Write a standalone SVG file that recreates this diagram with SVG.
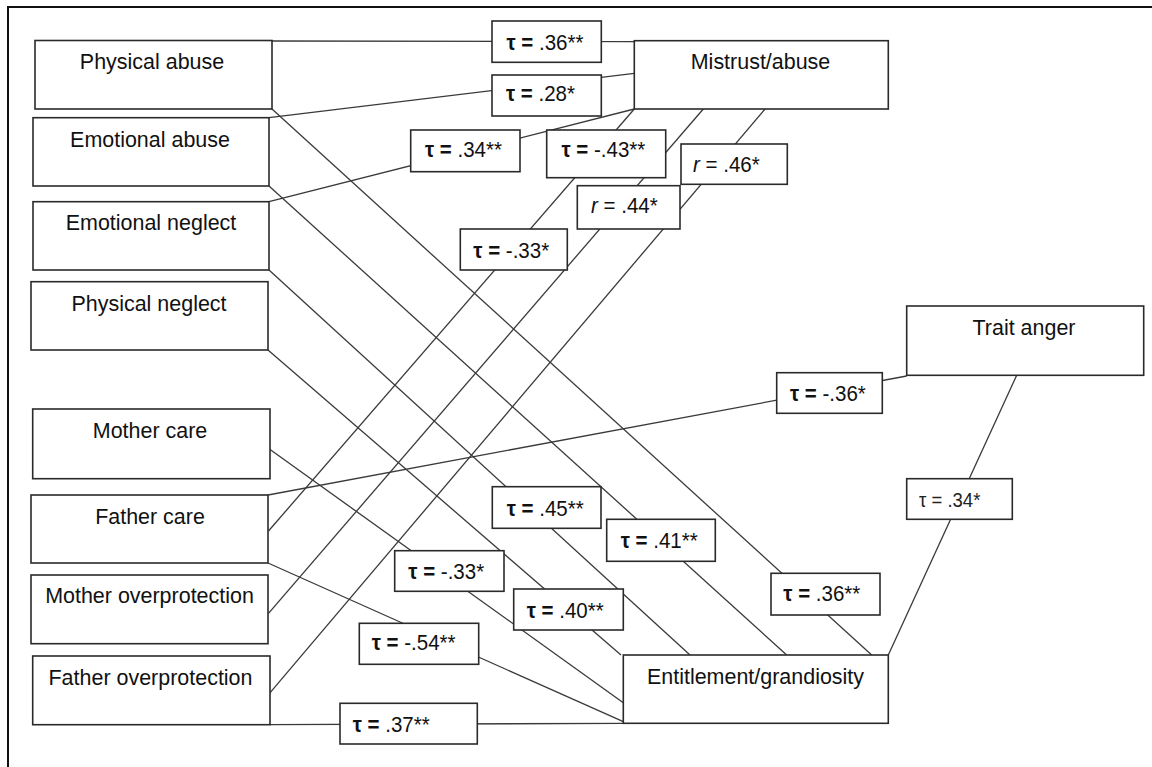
<svg xmlns="http://www.w3.org/2000/svg" width="1152" height="767" viewBox="0 0 1152 767">
  <style>
    .frame { fill: none; stroke: #111; stroke-width: 2; }
    .node rect { fill: #fff; stroke: #2a2a2a; stroke-width: 1.6; }
    .node text { font-family: "Liberation Sans", Arial, sans-serif; font-size: 22.6px; fill: #111; text-anchor: middle; }
    .coef rect { fill: #fff; stroke: #2a2a2a; stroke-width: 1.6; }
    .coef text { font-family: "Liberation Sans", Arial, sans-serif; font-size: 21.6px; fill: #111; }
    .coef .sym { font-weight: bold; }
    .coef .it { font-style: italic; }
    .coef text.light { font-size: 19.5px; fill: #222; }
    #connectors line { stroke: #3a3a3a; stroke-width: 1.3; fill: none; }
  </style>

  <rect width="1152" height="767" fill="#fff"/>
  <!-- outer frame: only top and left edges fall inside the canvas -->
  <path class="frame" d="M8,767 V7 H1152"/>

  <!-- connectors -->
  <g id="connectors">
    <line x1="272" y1="41" x2="634.3" y2="41.5"/>
    <line x1="269" y1="117.7" x2="634.3" y2="73.3"/>
    <line x1="269" y1="201.7" x2="634.3" y2="109"/>
    <line x1="634.3" y1="109" x2="268.5" y2="531"/>
    <line x1="703.3" y1="109" x2="268.5" y2="613.3"/>
    <line x1="765" y1="109" x2="269.5" y2="693.3"/>
    <line x1="272" y1="109" x2="871.7" y2="655"/>
    <line x1="269" y1="186" x2="786.7" y2="655"/>
    <line x1="269" y1="270" x2="690" y2="655"/>
    <line x1="268" y1="350" x2="621" y2="655"/>
    <line x1="268.3" y1="448.3" x2="623.3" y2="702.7"/>
    <line x1="268" y1="563" x2="623.3" y2="721.7"/>
    <line x1="270" y1="724.7" x2="623.3" y2="723.3"/>
    <line x1="268" y1="495" x2="906.7" y2="376"/>
    <line x1="1016.7" y1="375.3" x2="888.3" y2="655"/>
  </g>

  <!-- variable nodes (labels slightly condensed horizontally) -->
  <g id="physical-abuse" class="node">
    <rect x="35" y="40.5" width="237" height="68.5"/>
    <text transform="translate(152 68.5) scale(0.95 1)">Physical abuse</text>
  </g>
  <g id="emotional-abuse" class="node">
    <rect x="33" y="117.7" width="236" height="68.3"/>
    <text transform="translate(150 146.5) scale(0.95 1)">Emotional abuse</text>
  </g>
  <g id="emotional-neglect" class="node">
    <rect x="33" y="201.7" width="236" height="68.3"/>
    <text transform="translate(151 230.3) scale(0.95 1)">Emotional neglect</text>
  </g>
  <g id="physical-neglect" class="node">
    <rect x="31" y="281.7" width="237" height="68.3"/>
    <text transform="translate(149 310.5) scale(0.95 1)">Physical neglect</text>
  </g>
  <g id="mother-care" class="node">
    <rect x="32.7" y="409" width="237.3" height="69.7"/>
    <text transform="translate(150 438.3) scale(0.95 1)">Mother care</text>
  </g>
  <g id="father-care" class="node">
    <rect x="31" y="495" width="237" height="68"/>
    <text transform="translate(150 523.5) scale(0.95 1)">Father care</text>
  </g>
  <g id="mother-overprotection" class="node">
    <rect x="31" y="575" width="237" height="68.7"/>
    <text transform="translate(149.5 603.3) scale(0.95 1)">Mother overprotection</text>
  </g>
  <g id="father-overprotection" class="node">
    <rect x="32.7" y="656" width="237.3" height="68.7"/>
    <text transform="translate(150.5 685) scale(0.95 1)">Father overprotection</text>
  </g>
  <g id="mistrust-abuse" class="node">
    <rect x="634.3" y="40.7" width="254" height="68.3"/>
    <text transform="translate(760.5 69.3) scale(0.95 1)">Mistrust/abuse</text>
  </g>
  <g id="trait-anger" class="node">
    <rect x="906.7" y="306" width="237" height="69.3"/>
    <text transform="translate(1024 335) scale(0.95 1)">Trait anger</text>
  </g>
  <g id="entitlement-grandiosity" class="node">
    <rect x="623.3" y="655" width="265" height="68.3"/>
    <text transform="translate(755.5 683.5) scale(0.95 1)">Entitlement/grandiosity</text>
  </g>

  <!-- coefficient labels -->
  <g id="coef-pa-mistrust" class="coef">
    <rect x="492" y="21" width="109.3" height="41.3"/>
    <text transform="translate(506.5 50) scale(0.95 1)"><tspan class="sym">τ =</tspan> .36**</text>
  </g>
  <g id="coef-ea-mistrust" class="coef">
    <rect x="492" y="75" width="109.3" height="41"/>
    <text transform="translate(506 101) scale(0.95 1)"><tspan class="sym">τ =</tspan> .28*</text>
  </g>
  <g id="coef-en-mistrust" class="coef">
    <rect x="410.7" y="130" width="109.3" height="41.7"/>
    <text transform="translate(425 157) scale(0.95 1)"><tspan class="sym">τ =</tspan> .34**</text>
  </g>
  <g id="coef-fc-mistrust" class="coef">
    <rect x="546.7" y="130" width="119" height="47.7"/>
    <text transform="translate(561.5 157) scale(0.95 1)"><tspan class="sym">τ =</tspan> -.43**</text>
  </g>
  <g id="coef-fo-mistrust" class="coef">
    <rect x="681" y="144" width="106.3" height="40.3"/>
    <text transform="translate(693 171.7) scale(0.95 1)"><tspan class="it">r</tspan> = .46*</text>
  </g>
  <g id="coef-mo-mistrust" class="coef">
    <rect x="577.3" y="185.7" width="102.7" height="43.3"/>
    <text transform="translate(591 213.3) scale(0.95 1)"><tspan class="it">r</tspan> = .44*</text>
  </g>
  <g id="coef-fc-mistrust-b" class="coef">
    <rect x="460.3" y="229" width="107" height="41"/>
    <text transform="translate(473.3 258.3) scale(0.95 1)"><tspan class="sym">τ =</tspan> -.33*</text>
  </g>
  <g id="coef-fc-trait" class="coef">
    <rect x="776.7" y="372.7" width="105.6" height="40.6"/>
    <text transform="translate(790 400.7) scale(0.95 1)"><tspan class="sym">τ =</tspan> -.36*</text>
  </g>
  <g id="coef-trait-ent" class="coef">
    <rect x="906.7" y="478.7" width="105.6" height="40.6"/>
    <text class="light" transform="translate(919 506.7) scale(0.95 1)">τ = .34*</text>
  </g>
  <g id="coef-en-ent" class="coef">
    <rect x="492.3" y="486.7" width="108.7" height="41.6"/>
    <text transform="translate(506.7 516) scale(0.95 1)"><tspan class="sym">τ =</tspan> .45**</text>
  </g>
  <g id="coef-ea-ent" class="coef">
    <rect x="606.7" y="519.3" width="108.6" height="42"/>
    <text transform="translate(620.7 548.3) scale(0.95 1)"><tspan class="sym">τ =</tspan> .41**</text>
  </g>
  <g id="coef-pa-ent" class="coef">
    <rect x="771" y="573.3" width="109" height="41.7"/>
    <text transform="translate(783.3 601) scale(0.95 1)"><tspan class="sym">τ =</tspan> .36**</text>
  </g>
  <g id="coef-mc-ent" class="coef">
    <rect x="394.7" y="550.7" width="109.3" height="40.6"/>
    <text transform="translate(408.3 579.3) scale(0.95 1)"><tspan class="sym">τ =</tspan> -.33*</text>
  </g>
  <g id="coef-pn-ent" class="coef">
    <rect x="513.7" y="589" width="109.6" height="41"/>
    <text transform="translate(526.7 618.3) scale(0.95 1)"><tspan class="sym">τ =</tspan> .40**</text>
  </g>
  <g id="coef-fc-ent" class="coef">
    <rect x="359.3" y="623.3" width="119.4" height="41"/>
    <text transform="translate(371.7 650) scale(0.95 1)"><tspan class="sym">τ =</tspan> -.54**</text>
  </g>
  <g id="coef-fo-ent" class="coef">
    <rect x="340" y="703.3" width="137.3" height="40.7"/>
    <text transform="translate(352.7 731.7) scale(0.95 1)"><tspan class="sym">τ =</tspan> .37**</text>
  </g>
</svg>
